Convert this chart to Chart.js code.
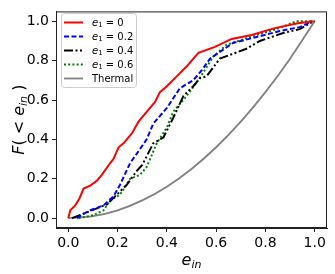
<!DOCTYPE html>
<html>
<head>
<meta charset="utf-8">
<script src="https://cdn.jsdelivr.net/npm/chart.js@4.4.1/dist/chart.umd.min.js"></script>
<style>
  body { margin: 0; background: #fff; }
  #wrap { width: 335px; height: 274px; }
</style>
</head>
<body>
<div id="wrap"><canvas id="cdf" width="335" height="274"></canvas></div>
<script>
// values
const e0X = [0, 0.008, 0.028, 0.045, 0.062, 0.089, 0.116, 0.136, 0.17, 0.183, 0.204, 0.224, 0.258, 0.285, 0.318, 0.352, 0.372, 0.40, 0.44, 0.48, 0.528, 0.595, 0.663, 0.744, 0.838, 0.932, 0.993];
const e0Y = [0, 0.04, 0.065, 0.10, 0.15, 0.165, 0.19, 0.22, 0.28, 0.30, 0.36, 0.38, 0.43, 0.49, 0.54, 0.59, 0.64, 0.67, 0.72, 0.77, 0.84, 0.87, 0.91, 0.93, 0.965, 0.99, 1.0];

const e02X = [0.035, 0.06, 0.089, 0.143, 0.183, 0.21, 0.251, 0.285, 0.318, 0.345, 0.40, 0.453, 0.507, 0.541, 0.575, 0.669, 0.764, 0.858, 0.939, 0.99];
const e02Y = [0, 0.02, 0.04, 0.065, 0.11, 0.17, 0.28, 0.34, 0.40, 0.48, 0.56, 0.66, 0.70, 0.75, 0.81, 0.89, 0.92, 0.95, 0.97, 1.0];

const e04X = [0.015, 0.076, 0.116, 0.157, 0.197, 0.238, 0.278, 0.30, 0.345, 0.386, 0.426, 0.467, 0.507, 0.534, 0.561, 0.615, 0.723, 0.777, 0.872, 0.939, 0.98, 1.0];
const e04Y = [0, 0.03, 0.05, 0.07, 0.12, 0.17, 0.24, 0.27, 0.38, 0.41, 0.51, 0.62, 0.67, 0.71, 0.72, 0.81, 0.86, 0.90, 0.94, 0.96, 0.99, 1.0];

const e06X = [0.042, 0.102, 0.143, 0.17, 0.21, 0.251, 0.291, 0.318, 0.359, 0.40, 0.426, 0.48, 0.521, 0.548, 0.588, 0.642, 0.737, 0.845, 0.926, 1.0];
const e06Y = [0, 0.015, 0.04, 0.09, 0.12, 0.20, 0.22, 0.26, 0.38, 0.46, 0.54, 0.62, 0.69, 0.74, 0.82, 0.88, 0.92, 0.96, 1.0, 1.0];

const thermalX = [0, 0.1, 0.2, 0.3, 0.4, 0.5, 0.6, 0.7, 0.8, 0.9, 1.0];
const thermalY = [0, 0.01, 0.04, 0.09, 0.16, 0.25, 0.36, 0.49, 0.64, 0.81, 1.0];

const xTicks = [0, 0.2, 0.4, 0.6, 0.8, 1.0];
const yTicks = [0, 0.2, 0.4, 0.6, 0.8, 1.0];
const legendLabels = ['0', '0.2', '0.4', '0.6', 'Thermal'];

const FONT = 'DejaVu Sans';

function pts(xs, ys) {
  return xs.map((x, i) => ({ x: x, y: ys[i] }));
}

function series(xs, ys, color, dash, width) {
  return {
    data: pts(xs, ys),
    borderColor: color,
    borderWidth: width,
    borderDash: dash,
    pointRadius: 0,
    fill: false,
    tension: 0
  };
}

const datasets = [
  series(e0X, e0Y, '#ff0000', [], 2),
  series(e02X, e02Y, '#0000ff', [5, 2.5], 2),
  series(e04X, e04Y, '#000000', [9, 2.5, 2, 2.5, 2, 2.5], 2),
  series(e06X, e06Y, '#008000', [2, 2.2], 2),
  Object.assign(series(thermalX, thermalY, '#808080', [], 1.8), { cubicInterpolationMode: 'monotone' })
];

// draws a run of text pieces: [text, size, italic, baselineShift]
function drawPieces(ctx, pieces, x, y) {
  pieces.forEach(p => {
    ctx.font = (p[2] ? 'italic ' : '') + p[1] + 'px "' + FONT + '"';
    ctx.fillText(p[0], x, y + p[3]);
    x += ctx.measureText(p[0]).width;
  });
}

function piecesWidth(ctx, pieces) {
  let w = 0;
  pieces.forEach(p => {
    ctx.font = (p[2] ? 'italic ' : '') + p[1] + 'px "' + FONT + '"';
    w += ctx.measureText(p[0]).width;
  });
  return w;
}

const decorations = {
  id: 'decorations',
  afterDraw(chart) {
    const ctx = chart.ctx;
    const a = chart.chartArea;
    ctx.save();

    // frame round the plot
    ctx.strokeStyle = '#222';
    ctx.lineWidth = 1;
    ctx.strokeRect(a.left + 0.5, a.top + 0.5, a.right - a.left - 1, a.bottom - a.top - 1);

    ctx.fillStyle = '#000';
    ctx.textBaseline = 'alphabetic';

    // x title
    const xt = [['e', 16, true, 0], ['in', 11, true, 3]];
    const xw = piecesWidth(ctx, xt);
    drawPieces(ctx, xt, (a.left + a.right) / 2 - xw / 2, 265);

    // y title
    const yt = [['F', 16, true, 0], ['( < ', 16, false, 0], ['e', 16, true, 0], ['in', 11, true, 3], [' )', 16, false, 0]];
    const yw = piecesWidth(ctx, yt);
    ctx.translate(24, (a.top + a.bottom) / 2);
    ctx.rotate(-Math.PI / 2);
    drawPieces(ctx, yt, -yw / 2, 0);
    ctx.setTransform(1, 0, 0, 1, 0, 0);

    // legend box
    const bx = 61, by = 13, bw = 75, bh = 74;
    ctx.beginPath();
    ctx.roundRect(bx + 0.5, by + 0.5, bw, bh, 3);
    ctx.fillStyle = 'rgba(255,255,255,0.8)';
    ctx.fill();
    ctx.strokeStyle = '#cccccc';
    ctx.lineWidth = 1;
    ctx.stroke();

    chart.data.datasets.forEach((ds, i) => {
      const y = 22 + i * 14;
      ctx.beginPath();
      ctx.setLineDash(ds.borderDash);
      ctx.strokeStyle = ds.borderColor;
      ctx.lineWidth = ds.borderWidth;
      ctx.moveTo(64, y + 0.5);
      ctx.lineTo(83, y + 0.5);
      ctx.stroke();
      ctx.setLineDash([]);

      ctx.fillStyle = '#000';
      ctx.textBaseline = 'middle';
      const lab = legendLabels[i];
      if (lab === 'Thermal') {
        drawPieces(ctx, [[lab, 10, false, 0]], 92, y + 1);
      } else {
        drawPieces(ctx, [['e', 10, true, 0], ['1', 7, false, 2.5], [' = ' + lab, 10, false, 0]], 92, y + 1);
      }
    });
    ctx.restore();
  }
};

new Chart(document.getElementById('cdf'), {
  type: 'line',
  data: { datasets: datasets },
  options: {
    responsive: false,
    animation: false,
    layout: { padding: { top: 8, right: 8, left: 0, bottom: 0 } },
    plugins: { legend: { display: false }, tooltip: { enabled: false } },
    scales: {
      x: {
        type: 'linear',
        min: -0.05,
        max: 1.05,
        afterBuildTicks: s => { s.ticks = xTicks.map(v => ({ value: v })); },
        afterFit: s => { s.height = 46; },
        grid: { drawOnChartArea: false, drawTicks: true, tickLength: 4, color: '#222' },
        border: { display: true, color: '#222', width: 1 },
        ticks: {
          color: '#000',
          padding: 3,
          maxRotation: 0,
          font: { family: FONT, size: 14 },
          callback: v => v.toFixed(1)
        }
      },
      y: {
        type: 'linear',
        min: -0.05,
        max: 1.05,
        afterBuildTicks: s => { s.ticks = yTicks.map(v => ({ value: v })); },
        afterFit: s => { s.width = 56; },
        grid: { drawOnChartArea: false, drawTicks: true, tickLength: 4, color: '#222' },
        border: { display: true, color: '#222', width: 1 },
        ticks: {
          color: '#000',
          padding: 3,
          font: { family: FONT, size: 14 },
          callback: v => v.toFixed(1)
        }
      }
    }
  },
  plugins: [decorations]
});
</script>
</body>
</html>
